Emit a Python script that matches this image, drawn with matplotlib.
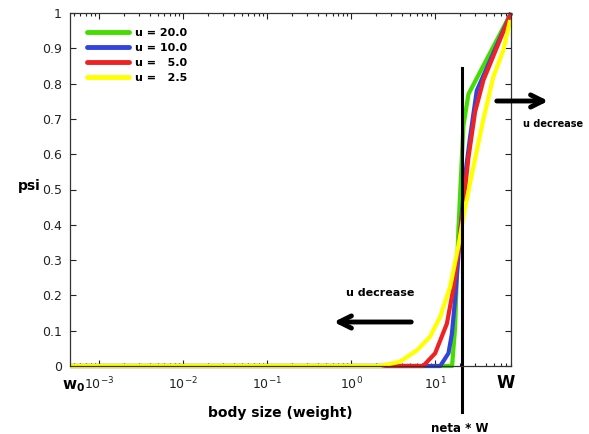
import matplotlib
matplotlib.use('Agg')
import matplotlib.pyplot as plt
from matplotlib.ticker import LogLocator, FixedLocator

# curves psi(w) for different u
w_min, W = 4.5e-4, 80.0
neta = 0.26

green_x = [w_min, 15.9, 17.3, 18.9, 21.7, 24.9, 80.0]
green_y = [0, 0, 0.11, 0.385, 0.68, 0.77, 1.0]

blue_x = [w_min, 11.5, 14.4, 15.8, 17.3, 19.9, 22.8, 26.1, 31.3, 80.0]
blue_y = [0, 0, 0.036, 0.09, 0.19, 0.38, 0.54, 0.65, 0.78, 1.0]

red_x = [w_min, 7.2, 10.0, 13.8, 16.5, 18.9, 21.7, 24.9, 29.9, 37.6, 80.0]
red_y = [0, 0, 0.036, 0.12, 0.22, 0.33, 0.46, 0.59, 0.72, 0.81, 1.0]

yellow_x = [w_min, 2.2, 3.8, 6.1, 8.7, 11.5, 15.1, 18.9, 22.8, 28.6, 37.6, 49.4, 65.0, 78.1]
yellow_y = [0, 0, 0.012, 0.045, 0.083, 0.14, 0.225, 0.34, 0.45, 0.565, 0.70, 0.82, 0.895, 0.98]

labels = ['u = 20.0', 'u = 10.0', 'u =   5.0', 'u =   2.5']
colors = ['#44dd00', '#3344dd', '#ee2222', '#ffff00']

y_ticks = [0, 0.1, 0.2, 0.3, 0.4, 0.5, 0.6, 0.7, 0.8, 0.9, 1]
y_ticklabels = ['0', '0.1', '0.2', '0.3', '0.4', '0.5', '0.6', '0.7', '0.8', '0.9', '1']
x_ticks = [1e-3, 1e-2, 1e-1, 1e0, 1e1]

fig = plt.figure(figsize=(5.89, 4.34), dpi=100)
ax = fig.add_axes([70/589, 1-366/434, 441/589, 353/434])

xs = [green_x, blue_x, red_x, yellow_x]
ys = [green_y, blue_y, red_y, yellow_y]
for x, y, c, lab in zip(xs, ys, colors, labels):
    ax.plot(x, y, color=c, lw=3, label=lab, solid_capstyle='butt', clip_on=False)

# neta * W line
ax.plot([neta*W, neta*W], [-0.13, 0.845], color='black', lw=2.2, clip_on=False)

ax.set_xscale('log')
ax.set_xlim(w_min, W)
ax.set_ylim(0, 1)
ax.xaxis.set_major_locator(FixedLocator(x_ticks))
ax.xaxis.set_minor_locator(LogLocator(base=10, subs=range(2, 10), numticks=20))
ax.set_yticks(y_ticks)
ax.set_yticklabels(y_ticklabels)
ax.tick_params(which='both', direction='in', top=True, right=True,
               labelsize=9, colors='#222222', width=0.8)
ax.tick_params(which='major', length=4)
ax.tick_params(which='minor', length=2)
ax.tick_params(axis='x', pad=7)
ax.tick_params(axis='y', pad=6)
for s in ax.spines.values():
    s.set_linewidth(0.9)
    s.set_color('#333333')

leg = ax.legend(loc='upper left', frameon=False, prop={'weight': 'bold', 'size': 8},
                handlelength=3.8, handletextpad=0.55, labelspacing=0.45,
                bbox_to_anchor=(0.015, 0.985))
for h in leg.get_lines():
    h.set_linewidth(3.5)
    h.set_solid_capstyle('round')

# labels and annotations
fig.text(280/589, 1-413/434, 'body size (weight)', fontsize=10, weight='bold',
         ha='center', va='center')
fig.text(29/589, 1-186/434, 'psi', fontsize=10, weight='bold', ha='center', va='center')
fig.text(74/589, 1-386/434, r'$\mathbf{w_0}$', fontsize=11, ha='center', va='center')
fig.text(506/589, 1-383/434, 'W', fontsize=12, weight='bold', ha='center', va='center')
fig.text(460/589, 1-428/434, 'neta * W', fontsize=8.5, weight='bold', ha='center', va='center')
fig.text(380/589, 1-293/434, 'u decrease', fontsize=8, weight='bold', ha='center', va='center')
fig.text(523/589, 1-124/434, 'u decrease', fontsize=7, weight='bold', ha='left', va='center')

ax.annotate('', xy=(331/589, 1-322/434), xytext=(414/589, 1-322/434),
            xycoords='figure fraction', textcoords='figure fraction',
            arrowprops=dict(arrowstyle='->', lw=3.5, color='black', mutation_scale=22))
ax.annotate('', xy=(551/589, 1-101/434), xytext=(494/589, 1-101/434),
            xycoords='figure fraction', textcoords='figure fraction',
            arrowprops=dict(arrowstyle='->', lw=3.5, color='black', mutation_scale=22))

fig.savefig('out.png', dpi=100)
